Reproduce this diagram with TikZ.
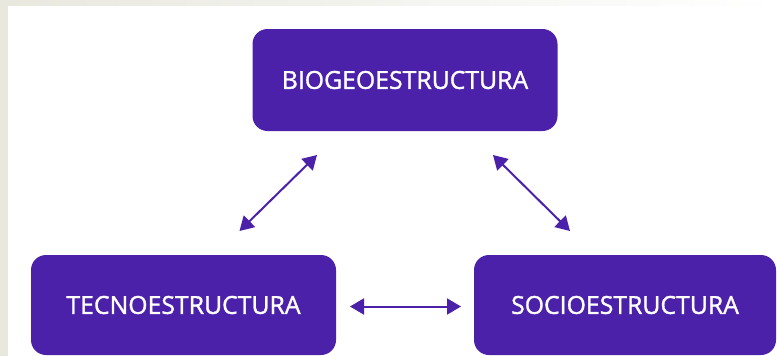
\documentclass[tikz,border=0pt]{standalone}
\usepackage{fontspec}
\setmainfont{Open Sans}
\newfontfamily\boxfont{Open Sans}[FakeBold=1.3]
\usetikzlibrary{arrows.meta}
\definecolor{boxpurple}{HTML}{4C21A9}
\definecolor{bgstone}{HTML}{E8E8DF}
\begin{document}
\begin{tikzpicture}[x=1pt,y=-1pt,
  box/.style={fill=boxpurple, rounded corners=15pt, text=white,
    font=\boxfont\fontsize{24.8}{28}\selectfont, inner sep=0pt},
  link/.style={draw=boxpurple, line width=2pt,
    {Triangle[length=14pt,width=16pt]}-{Triangle[length=14pt,width=16pt]}}]
  \shade[left color=bgstone, right color=white] (0,0) rectangle (777,6);
  \fill[bgstone] (0,0) rectangle (8,356);
  \fill[white] (8,6) rectangle (777,356);
  \useasboundingbox (0,0) rectangle (777,356);
  \node[box, minimum width=305pt, minimum height=102pt] (bio) at (405,80) {BIOGEOESTRUCTURA};
  \node[box, minimum width=305pt, minimum height=100pt] (tec) at (183.5,305) {TECNOESTRUCTURA};
  \node[box, minimum width=302pt, minimum height=100pt] (soc) at (625,305) {SOCIOESTRUCTURA};
  \coordinate (a1) at (239.5,231);
  \coordinate (a2) at (317,155);
  \coordinate (b1) at (493,155);
  \coordinate (b2) at (570,231);
  \coordinate (c1) at (350,306.5);
  \coordinate (c2) at (461,306.5);
  \draw[link] (a1) -- (a2);
  \draw[link] (b1) -- (b2);
  \draw[link] (c1) -- (c2);
\end{tikzpicture}
\end{document}
